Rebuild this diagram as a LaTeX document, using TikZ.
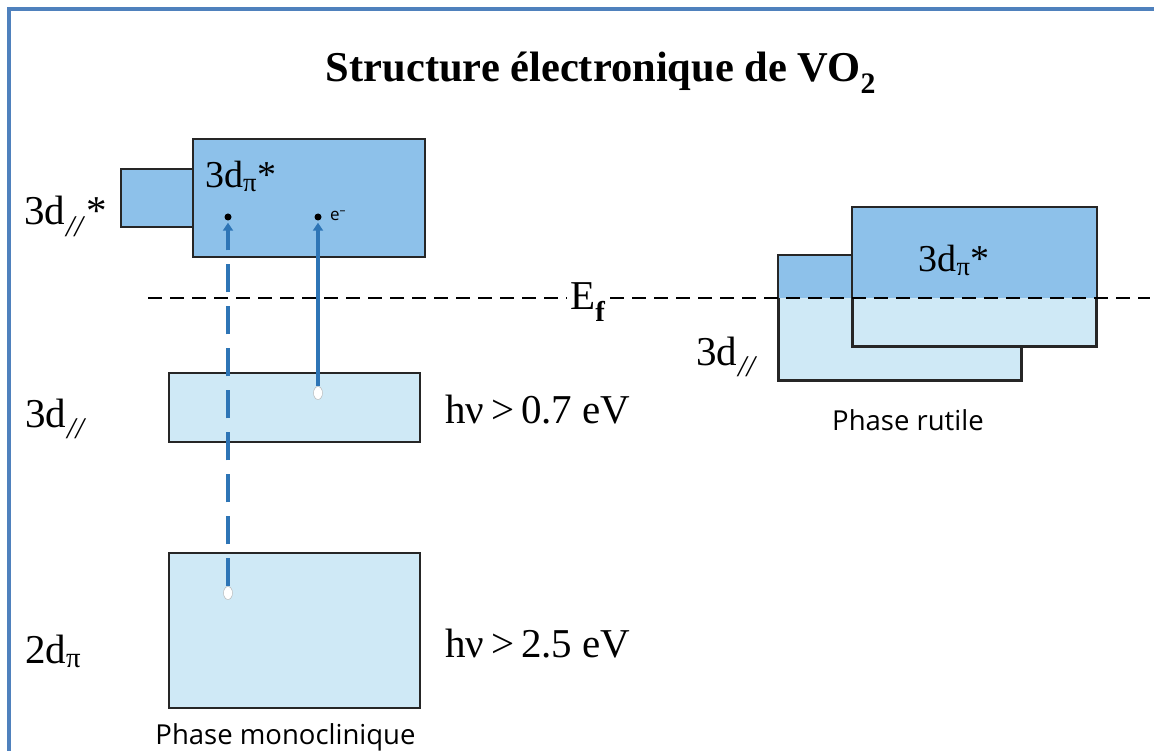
\documentclass[tikz,border=0pt]{standalone}
\usepackage{fontspec}
\setmainfont{Liberation Serif}
\setsansfont{Open Sans}
\usetikzlibrary{positioning,arrows.meta,shapes.geometric}

\definecolor{bandhi}{HTML}{8DC1EA}
\definecolor{bandlo}{HTML}{CFE9F6}
\definecolor{arrowblue}{HTML}{2E75B6}
\definecolor{frameblue}{HTML}{4F81BD}

\tikzset{
  band/.style={draw=black!85, line width=1.6pt, inner sep=0pt},
  bandfull/.style={band, fill=bandhi},
  bandempty/.style={band, fill=bandlo},
  lbl/.style={font=\fontsize{41}{44}\selectfont, inner sep=0pt},
  smalllbl/.style={font=\fontsize{38}{40}\selectfont, inner sep=0pt},
  phase/.style={font=\sffamily\fontsize{27.5}{30}\selectfont, inner sep=0pt},
  electron/.style={circle, fill=black, inner sep=0pt, minimum size=7pt},
  hole/.style={ellipse, draw=black!30, fill=white, inner sep=0pt, minimum width=9pt, minimum height=13pt},
  excite/.style={draw=arrowblue, line width=3.4pt, -{Triangle[width=10pt,length=8pt]}, shorten >=2pt},
  fermi/.style={draw=black, line width=1.6pt, dash pattern=on 14pt off 8pt},
  frame/.style={draw=frameblue, line width=3.5pt}
}

\newcommand{\dpar}{3d\textsubscript{\itshape\kern1pt {\fontsize{30}{30}\selectfont //}\kern3pt}}
\newcommand{\dpi}{d\textsubscript{π}}

\begin{document}
\begin{tikzpicture}[x=1pt, y=-1pt]
\useasboundingbox (0,0) rectangle (1154,751);
\draw[frame] (9,751) -- (9,9) -- (1154,9);

\node[font=\bfseries\fontsize{42.5}{46}\selectfont, inner sep=0pt, anchor=base] (title) at (601,82)
  {Structure électronique de VO\textsubscript{2}};

% phase monoclinique
\node[bandfull, minimum width=72, minimum height=58] (mparstar) at (157,198) {};
\node[bandfull, minimum width=232, minimum height=118] (mpistar) at (309,198) {};
\node[bandempty, minimum width=251, minimum height=69] (mpar) at (294.5,407.5) {};
\node[bandempty, minimum width=251, minimum height=155] (mpi) at (294.5,630.5) {};

\node[lbl, anchor=base west] (lparstar) at (24,225) {\dpar*};
\node[smalllbl, anchor=base west] (lpistar) at (205,188) {3\dpi*};
\node[lbl, anchor=base west] (lpar) at (25,427) {\dpar};
\node[lbl, anchor=base west] (lpi) at (25,663) {2\dpi};
\node[lbl, anchor=base west] (gap1) at (445,423) {hν\,>\,0.7 eV};
\node[lbl, anchor=base west] (gap2) at (445,657) {hν\,>\,2.5 eV};
\node[phase, below=15pt of mpi, xshift=-9pt] (mphase) {Phase monoclinique};

\node[electron] (e1) at (228,217) {};
\node[electron] (e2) at (318,217) {};
\node[font=\sffamily\fontsize{17}{18}\selectfont, anchor=west, inner sep=0pt] (eminus) at (330,216) {e\textsuperscript{–}};
\node[hole] (h1) at (228,593) {};
\node[hole] (h2) at (318,393) {};

\draw[excite, dash pattern=on 28pt off 14pt] (h1) -- (e1);
\draw[excite] (h2) -- (e2);

% phase rutile
\coordinate (efl) at (148,298);
\coordinate (efr) at (1150,298);
\node[bandempty, minimum width=242, minimum height=124] (rpar) at (900,318) {};
\fill[bandhi] (rpar.north west) rectangle (rpar.east |- efr);
\draw[band] (rpar.north west) rectangle (rpar.south east);
\node[bandempty, minimum width=243, minimum height=138] (rpi) at (974.5,277) {};
\fill[bandhi] (rpi.north west) rectangle (rpi.east |- efr);
\draw[band] (rpi.north west) rectangle (rpi.south east);

\node[smalllbl, anchor=base] (rlpistar) at (954,272) {3\dpi*};
\node[lbl, anchor=base west] (rlpar) at (696,365) {\dpar};
\node[phase] (rphase) at (908,420) {Phase rutile};

% niveau de Fermi
\draw[fermi] (efl) -- (efr);
\node[lbl, fill=white, inner sep=3pt, anchor=base west] (ef) at (567,310) {E\textsubscript{\bfseries f}};
\end{tikzpicture}
\end{document}
